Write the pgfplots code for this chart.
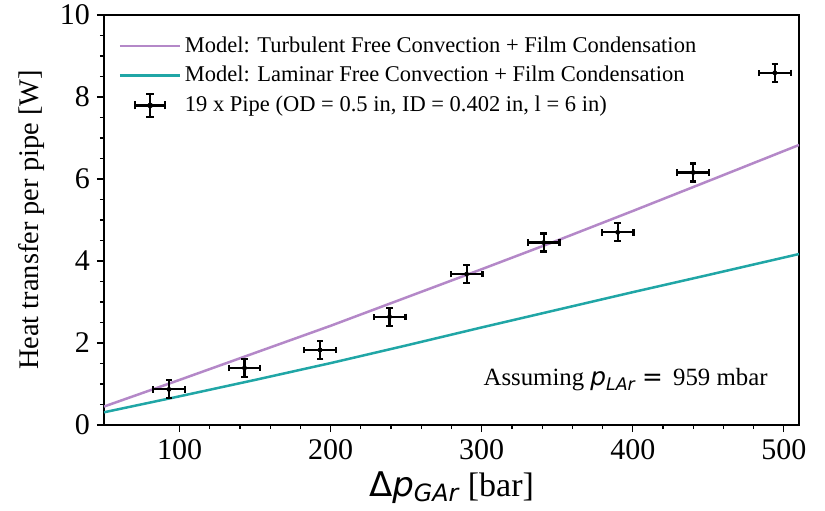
\documentclass[border=0pt]{standalone}
\usepackage{fontspec}
\setmainfont{Liberation Serif}
\newfontfamily\dejavu{DejaVu Sans}
\usepackage{pgfplots}
\pgfplotsset{compat=1.18}
\definecolor{turb}{RGB}{180,136,200}
\definecolor{lam}{RGB}{32,166,166}

\pgfplotstableread{
x     y     ex    ey
93    0.87  10.5  0.22
143   1.39  10.5  0.22
193   1.83  10.5  0.22
239   2.64  10.5  0.22
290   3.68  10.5  0.22
341   4.45  10.5  0.22
390   4.70  10.5  0.22
440   6.16  10.5  0.22
494   8.59  10.5  0.22
}\pipedata

\begin{document}
\begin{tikzpicture}
\begin{axis}[
    width=347.5pt, height=205pt, scale only axis,
    xmin=50, xmax=510, ymin=0, ymax=10,
    xtick={100,200,300,400,500}, ytick={0,2,4,6,8,10},
    minor x tick num=4, minor y tick num=3,
    tick align=outside, xtick pos=bottom, ytick pos=left,
    major tick length=3.5pt, minor tick length=2pt,
    tick style={black, line width=0.6pt},
    axis line style={line width=0.8pt},
    ticklabel style={font=\fontsize{15}{17}\selectfont},
    /pgf/number format/assume math mode=true,
    xlabel={{\dejavu Δ\itshape p\textsubscript{GAr}} [bar]},
    ylabel={Heat transfer per pipe [W]},
    xlabel style={font=\fontsize{17}{20}\selectfont,
        at={(axis description cs:0.5,-0.152)}, anchor=center},
    ylabel style={font=\fontsize{14.2}{16}\selectfont,
        at={(axis description cs:-0.105,0.5)}, anchor=center, rotate=0},
    legend style={at={(0.012,0.968)}, anchor=north west, draw=none, fill=none,
        font=\fontsize{11.25}{14}\selectfont, row sep=1.6pt,
        /tikz/every even column/.append style={column sep=0pt}},
    legend cell align=left,
    legend image code/.code={\draw[#1] (0cm,0cm) -- (1.05cm,0cm);},
]
\addplot[turb, line width=1.25pt] coordinates {
    (50,0.45) (100,1.10) (150,1.76) (200,2.42) (250,3.11) (300,3.80)
    (350,4.50) (400,5.22) (450,5.95) (510,6.83)
};
\addlegendentry{Model: Turbulent Free Convection + Film Condensation}
\addplot[lam, line width=1.25pt] coordinates {
    (50,0.31) (100,0.70) (150,1.10) (200,1.51) (250,1.94) (300,2.38)
    (350,2.81) (400,3.24) (450,3.66) (510,4.17)
};
\addlegendentry{Model: Laminar Free Convection + Film Condensation}
\addplot[black, only marks, mark=*, mark size=1pt,
    legend image code/.code={
        \draw[black, line width=1.1pt] (0.27cm,0cm) -- (0.79cm,0cm);
        \draw[black, line width=1.1pt] (0.53cm,-0.2cm) -- (0.53cm,0.2cm);
        \draw[black, line width=1.1pt] (0.27cm,-0.07cm) -- (0.27cm,0.07cm);
        \draw[black, line width=1.1pt] (0.79cm,-0.07cm) -- (0.79cm,0.07cm);
        \draw[black, line width=1.1pt] (0.46cm,0.2cm) -- (0.60cm,0.2cm);
        \draw[black, line width=1.1pt] (0.46cm,-0.2cm) -- (0.60cm,-0.2cm);
        \fill[black] (0.53cm,0cm) circle (1.2pt);},
    error bars/.cd, x dir=both, x explicit, y dir=both, y explicit,
    error bar style={line width=1.1pt},
    error mark options={black, rotate=90, mark size=1.6pt, line width=1.1pt},
    ]
    table[x=x, y=y, x error=ex, y error=ey] {\pipedata};
\addlegendentry{19 x Pipe (OD = 0.5 in, ID = 0.402 in, l = 6 in)}
\node[anchor=west, inner sep=0pt, font=\fontsize{12.4}{15}\selectfont] at (axis cs:301,1.1)
    {Assuming {\dejavu\itshape p\textsubscript{LAr}} {\dejavu =}\, 959 mbar};
\end{axis}
\pgfresetboundingbox
\path[use as bounding box] ([shift={(-52pt,-42.5pt)}]current axis.south west)
    rectangle ([shift={(13pt,7.5pt)}]current axis.north east);
\end{tikzpicture}
\end{document}
